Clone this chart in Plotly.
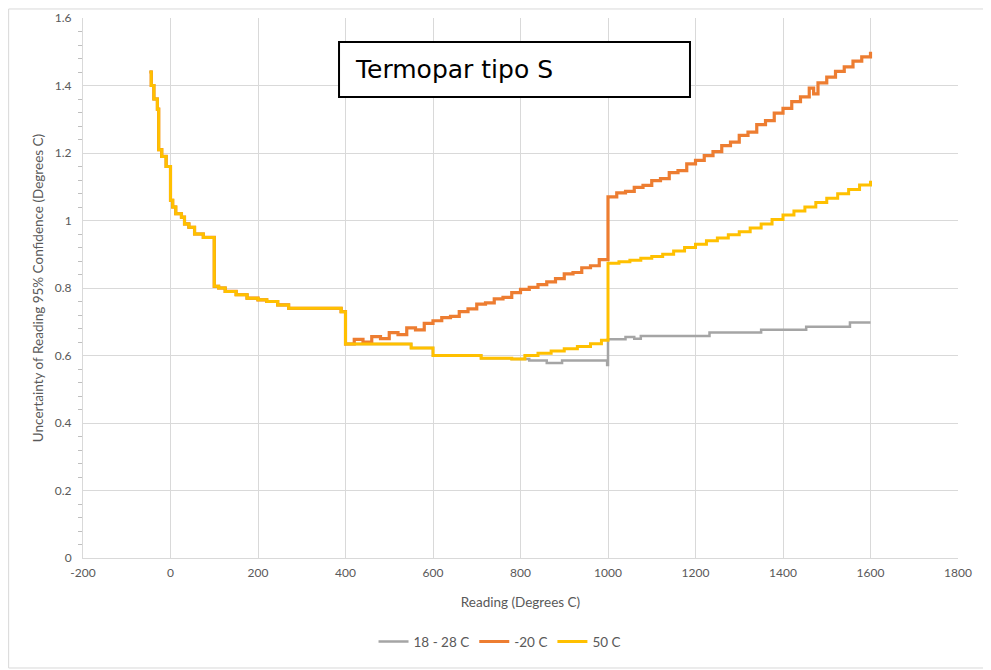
import plotly.graph_objects as go

# tramo comun a las tres curvas (-50 .. 400 C)
shared_x = [-48, -44, -38, -30, -27, -20, -10, 0, 5, 12, 25, 32, 42, 55, 75,
            100, 110, 125, 150, 175, 200, 220, 245, 270, 390]
shared_y = [1.44, 1.40, 1.36, 1.33, 1.21, 1.19, 1.16, 1.06, 1.04, 1.02, 1.01, 0.99, 0.98, 0.96, 0.95,
            0.805, 0.80, 0.79, 0.78, 0.77, 0.765, 0.76, 0.75, 0.74, 0.73]

# 18 - 28 C
gray_x = [400, 550, 600, 710, 780, 820, 860, 895, 998, 1000, 1040, 1060, 1075,
          1232, 1350, 1453, 1553, 1600]
gray_y = [0.634, 0.622, 0.60, 0.592, 0.59, 0.585, 0.578, 0.585, 0.572, 0.648, 0.655, 0.65, 0.658,
          0.668, 0.676, 0.685, 0.698, 0.698]

# -20 C
orange_x = [400, 420, 440, 460, 480, 500, 520, 540, 560, 580, 600, 620, 640, 660, 680,
            700, 720, 740, 760, 780, 800, 820, 840, 860, 880, 900, 920, 940, 960, 980,
            1000, 1020, 1040, 1060, 1080, 1100, 1120, 1140, 1160, 1180, 1200, 1220, 1240,
            1260, 1280, 1300, 1320, 1340, 1360, 1380, 1400, 1420, 1440, 1460, 1470, 1480,
            1500, 1520, 1540, 1560, 1580, 1600]
orange_y = [0.634, 0.648, 0.640, 0.656, 0.650, 0.668, 0.662, 0.682, 0.676, 0.695, 0.703, 0.712, 0.716,
            0.730, 0.738, 0.752, 0.756, 0.768, 0.772, 0.786, 0.796, 0.802, 0.810, 0.818, 0.828,
            0.842, 0.846, 0.860, 0.866, 0.884, 1.07, 1.082, 1.086, 1.098, 1.104, 1.118, 1.124,
            1.142, 1.148, 1.168, 1.178, 1.192, 1.204, 1.222, 1.232, 1.252, 1.262, 1.284, 1.296,
            1.318, 1.332, 1.352, 1.366, 1.392, 1.375, 1.408, 1.425, 1.442, 1.455, 1.472, 1.485, 1.50]

# 50 C
yellow_x = [400, 550, 600, 710, 780, 810, 840, 870, 900, 930, 960, 985,
            1000, 1025, 1050, 1075, 1100, 1125, 1150, 1175, 1200, 1225, 1250, 1275, 1300,
            1325, 1350, 1375, 1400, 1425, 1450, 1475, 1500, 1525, 1550, 1575, 1600]
yellow_y = [0.634, 0.622, 0.60, 0.592, 0.59, 0.60, 0.607, 0.613, 0.62, 0.627, 0.635, 0.645,
            0.873, 0.878, 0.882, 0.888, 0.893, 0.90, 0.91, 0.92, 0.93, 0.94, 0.948, 0.958, 0.967,
            0.978, 0.99, 1.003, 1.016, 1.028, 1.04, 1.053, 1.066, 1.079, 1.092, 1.105, 1.118]

x_ticks = [-200, 0, 200, 400, 600, 800, 1000, 1200, 1400, 1600, 1800]
x_labels = ["-200", "0", "200", "400", "600", "800", "1000", "1200", "1400", "1600", "1800"]

series = [
    ("18 - 28 C", gray_x, gray_y, "#A5A5A5", 2.5),
    ("-20 C", orange_x, orange_y, "#ED7D31", 3.2),
    ("50 C", yellow_x, yellow_y, "#FFC000", 3),
]

fig = go.Figure()
for name, xs, ys, color, width in series:
    fig.add_trace(go.Scatter(
        x=shared_x + xs,
        y=shared_y + ys,
        mode="lines",
        name=name,
        line=dict(color=color, width=width, shape="hv"),
    ))

grid = "#D9D9D9"
# la pagina deja 8px de margen, por eso el lienzo es 983x662
fig.update_layout(
    width=983,
    height=662,
    autosize=False,
    margin=dict(l=75, r=33, t=10, b=112, autoexpand=False),
    paper_bgcolor="white",
    plot_bgcolor="white",
    font=dict(family="Lato, Open Sans, sans-serif", size=12, color="#595959"),
    showlegend=True,
    legend=dict(
        orientation="h",
        x=0.4766,
        xanchor="center",
        y=-0.155,
        yanchor="middle",
        font=dict(size=13.5, color="#595959"),
    ),
    xaxis=dict(
        range=[-200, 1800],
        tickvals=x_ticks,
        ticktext=x_labels,
        tickangle=0,
        automargin=False,
        showgrid=True,
        gridcolor=grid,
        zeroline=False,
        showline=True,
        linecolor=grid,
        ticks="",
        ticklabelstandoff=4,
        title=dict(text="Reading (Degrees C)", standoff=18, font=dict(size=13.5)),
    ),
    yaxis=dict(
        range=[0, 1.6],
        dtick=0.2,
        automargin=False,
        showgrid=True,
        gridcolor=grid,
        zeroline=False,
        showline=True,
        linecolor=grid,
        ticks="",
        ticklabelstandoff=8,
        minor=dict(dtick=0.04, ticks="outside", ticklen=4, tickcolor="#BFBFBF", showgrid=False),
        title=dict(text="Uncertainty of Reading 95% Confidence (Degrees C)", standoff=8,
                   font=dict(size=13.5)),
    ),
)

# caja del titulo
fig.add_shape(type="rect", xref="paper", yref="paper",
              x0=0.2926, x1=0.6937, y0=0.8537, y1=0.9556,
              line=dict(color="black", width=2), fillcolor="white", layer="above")
fig.add_annotation(text="Termopar tipo S", xref="paper", yref="paper",
                   x=0.309, y=0.9047, xanchor="left", yanchor="middle",
                   showarrow=False, font=dict(family="DejaVu Sans", size=25, color="black"))

# borde del area del grafico
fig.add_shape(type="rect", xref="paper", yref="paper",
              x0=-0.085, x1=1.0343, y0=-0.2037, y1=1.0167,
              line=dict(color=grid, width=1))

fig.write_html("out.html")
